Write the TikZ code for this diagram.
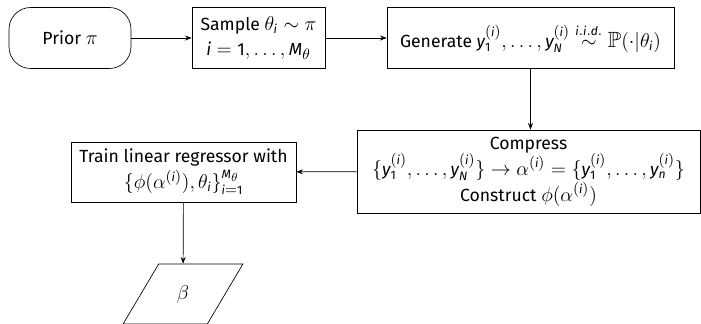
\documentclass[tikz,border=0pt]{standalone}
\usepackage{amsmath,amssymb}
\usepackage{mathspec}
\setmainfont{Fira Sans}[Scale=0.8]
\setmathsfont(Digits,Latin)[Scale=0.79]{Fira Sans}
\usetikzlibrary{arrows.meta,positioning,shapes.geometric}

\tikzset{
    flowbox/.style={draw, rectangle, align=center, inner sep=1.5pt,
                    minimum height=36.6pt},
    startbox/.style={draw, rectangle, rounded corners=13pt, align=center,
                     minimum width=73.2pt, minimum height=36.6pt},
    databox/.style={draw, trapezium, trapezium left angle=60,
                    trapezium right angle=120, trapezium stretches=true,
                    minimum width=72pt, minimum height=36pt},
    flow/.style={-{Stealth[length=4pt,width=3pt]}}
}

\begin{document}
\begin{tikzpicture}[x=0.6pt, y=0.6pt, font=\fontsize{13.2}{15.5}\selectfont]
    \useasboundingbox (0,0) rectangle (701,323);

    % Top row
    \node[startbox] (prior) at (70,285) {Prior $\pi$};
    \node[flowbox, minimum width=79.8pt] (sample) at (258.5,285)
        {Sample $\theta_i \sim \pi$\\ $i = 1, \dots, M_\theta$};
    \node[flowbox, minimum width=172.2pt] (gen) at (530.5,285)
        {Generate $y_1^{(i)}, \dots, y_N^{(i)} \stackrel{i.i.d.}{\sim} \mathbb{P}(\cdot|\theta_i)$};

    % Second row
    \node[flowbox, minimum width=205.8pt, minimum height=49.8pt] (comp) at (528.5,151.5)
        {Compress\\
         $\{y_1^{(i)}, \dots, y_N^{(i)}\} \to \alpha^{(i)} = \{y_1^{(i)}, \dots, y_n^{(i)}\}$\\
         Construct $\phi(\alpha^{(i)})$};
    \node[flowbox, minimum width=135pt, minimum height=36pt] (train) at (183.5,151)
        {Train linear regressor with\\ $\{\phi(\alpha^{(i)}), \theta_i\}_{i=1}^{M_\theta}$};

    % Output
    \node[databox] (beta) at (183,29) {$\beta$};

    % Arrows
    \draw[flow] (prior) -- (sample);
    \draw[flow] (sample) -- (gen);
    \draw[flow] (gen.south) -- (gen.south |- comp.north);
    \draw[flow] (comp) -- (train);
    \draw[flow] (train) -- (beta);
\end{tikzpicture}
\end{document}
